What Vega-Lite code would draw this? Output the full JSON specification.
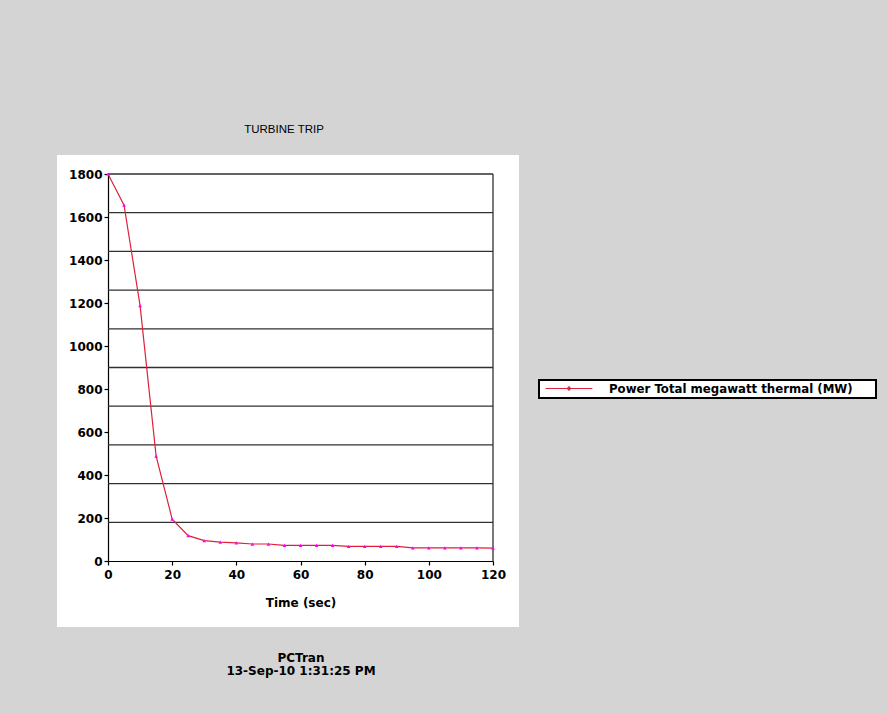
{
  "$schema": "https://vega.github.io/schema/vega-lite/v6.json",
  "width": 462,
  "height": 472,
  "autosize": {"type": "none"},
  "padding": {"left": 57, "top": 155, "right": 369, "bottom": 86},
  "background": "#d4d4d4",
  "title": {
    "text": "TURBINE TRIP",
    "font": "Liberation Sans",
    "fontSize": 11.5,
    "fontWeight": "normal",
    "color": "#000000",
    "anchor": "middle",
    "frame": "group",
    "dx": -4,
    "offset": 20
  },
  "config": {
    "view": {"fill": "white", "stroke": null},
    "legend": {"strokeWidth": 2},
    "axis": {
      "labelFont": "DejaVu Sans",
      "labelFontWeight": "bold",
      "labelFontSize": 12,
      "labelColor": "#000000",
      "titleFont": "DejaVu Sans",
      "titleFontWeight": "bold",
      "titleFontSize": 12,
      "titleColor": "#000000",
      "domain": true,
      "domainColor": "#000000",
      "domainWidth": 1.2,
      "ticks": true,
      "tickColor": "#000000",
      "tickWidth": 1.2,
      "tickSize": 4,
      "grid": false
    }
  },
  "layer": [
    {
      "data": {"values": [{"g": 180}, {"g": 360}, {"g": 540}, {"g": 720}, {"g": 900}, {"g": 1080}, {"g": 1260}, {"g": 1440}, {"g": 1620}, {"g": 1800}]},
      "mark": {"type": "rule", "color": "#303030", "strokeWidth": 1.3},
      "encoding": {
        "x": {"datum": 0, "type": "quantitative", "scale": {"domain": [0, 120], "nice": false, "range": [51, 436]}},
        "x2": {"datum": 120},
        "y": {
          "field": "g", "type": "quantitative",
          "scale": {"domain": [0, 1800], "nice": false, "range": [406, 19]},
          "axis": {
            "values": [0, 100, 200, 300, 400, 500, 600, 700, 800, 900, 1000, 1100, 1200, 1300, 1400, 1500, 1600, 1700, 1800],
            "labelExpr": "datum.value % 200 === 0 ? datum.label : ''",
            "format": "d",
            "offset": -51,
            "labelPadding": 2,
            "labelFlush": false,
            "labelOverlap": false,
            "title": null
          }
        }
      }
    },
    {
      "data": {"values": [{"edge": 120}]},
      "mark": {"type": "rule", "color": "#303030", "strokeWidth": 1.3},
      "encoding": {
        "x": {"field": "edge", "type": "quantitative"},
        "y": {"datum": 0, "type": "quantitative"},
        "y2": {"datum": 1800}
      }
    },
    {
      "data": {"name": "power", "values": [
        {"t": 0, "p": 1800}, {"t": 5, "p": 1655}, {"t": 10, "p": 1188}, {"t": 15, "p": 488},
        {"t": 20, "p": 195}, {"t": 25, "p": 118}, {"t": 30, "p": 95}, {"t": 35, "p": 88},
        {"t": 40, "p": 84}, {"t": 45, "p": 79}, {"t": 50, "p": 79}, {"t": 55, "p": 73},
        {"t": 60, "p": 73}, {"t": 65, "p": 73}, {"t": 70, "p": 73}, {"t": 75, "p": 68},
        {"t": 80, "p": 68}, {"t": 85, "p": 68}, {"t": 90, "p": 68}, {"t": 95, "p": 61},
        {"t": 100, "p": 61}, {"t": 105, "p": 61}, {"t": 110, "p": 61}, {"t": 115, "p": 61},
        {"t": 120, "p": 60}
      ]},
      "layer": [
        {
          "mark": {"type": "line", "interpolate": "linear", "strokeWidth": 1.2},
          "encoding": {
            "x": {
              "field": "t", "type": "quantitative",
              "axis": {
                "values": [0, 10, 20, 30, 40, 50, 60, 70, 80, 90, 100, 110, 120],
                "labelExpr": "datum.value % 20 === 0 ? datum.label : ''",
                "offset": -66,
                "labelPadding": 4,
                "labelFlush": false,
                "labelOverlap": false,
                "title": ["Time (sec)", "\u2800", "\u2800", "\u2800", "PCTran", "13-Sep-10 1:31:25 PM"],
                "titleLineHeight": 13.75,
                "titlePadding": 17
              }
            },
            "y": {"field": "p", "type": "quantitative"},
            "color": {
              "datum": "Power Total megawatt thermal (MW)",
              "type": "nominal",
              "scale": {"range": ["#e0203a"]},
              "legend": {
                "orient": "none",
                "legendX": 482,
                "legendY": 225,
                "title": ".",
                "titleColor": "white",
                "titleOrient": "right",
                "titlePadding": 17,
                "titleFontSize": 12,
                "fillColor": "white",
                "strokeColor": "#000000",
                "padding": 2,
                "symbolType": "M-3.9,0H3.9M-0.3,0L0,-0.35L0.3,0L0,0.35Z",
                "symbolSize": 144,
                "symbolStrokeWidth": 1,
                "symbolFillColor": "#ff00ff",
                "symbolStrokeColor": "#e0203a",
                "symbolOffset": 21.5,
                "labelOffset": 33.5,
                "labelFont": "DejaVu Sans",
                "labelFontWeight": "bold",
                "labelFontSize": 11.75,
                "labelColor": "#000000",
                "labelLimit": 400
              }
            }
          }
        },
        {
          "mark": {"type": "point", "shape": "triangle-up", "filled": true, "size": 14, "color": "#ff00ff", "opacity": 1},
          "encoding": {
            "x": {"field": "t", "type": "quantitative"},
            "y": {"field": "p", "type": "quantitative"}
          }
        }
      ]
    }
  ]
}
